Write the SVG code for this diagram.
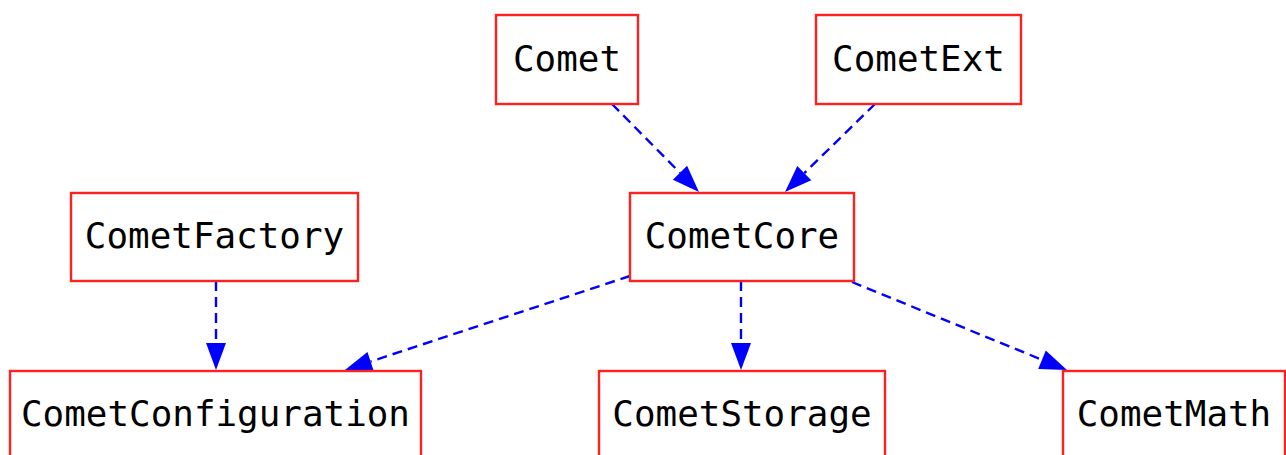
<svg xmlns="http://www.w3.org/2000/svg" width="1286" height="455" viewBox="0 0 1286 455">
<style>
.node rect{fill:#fff;stroke:#ff2020;stroke-width:2.4}
.node text{font-family:"DejaVu Sans Mono",monospace;font-size:35.9px;fill:#000;text-anchor:middle}
.edge{stroke:#0000ff;stroke-width:2.4;fill:none;stroke-dasharray:10,6;marker-end:url(#arr)}
</style>
<defs>
<marker id="arr" markerUnits="userSpaceOnUse" markerWidth="28" markerHeight="22" refX="0" refY="10" orient="auto" overflow="visible">
<path d="M0,0 L27,10 L0,20 z" fill="#0000ff"/>
</marker>
</defs>
<rect width="1286" height="455" fill="#fff"/>
<g id="connectors">
<path class="edge" d="M612,104 L680,172.8"/>
<path class="edge" d="M875,104 L804.3,173.1"/>
<path class="edge" d="M216,281 L216,343"/>
<path class="edge" d="M630,276 L370.6,361.5"/>
<path class="edge" d="M741,281 L741,343"/>
<path class="edge" d="M852,282 L1042,359.8"/>
</g>
<g id="Comet" class="node"><rect x="496" y="15" width="142" height="89"/><text x="567" y="71">Comet</text></g>
<g id="CometExt" class="node"><rect x="816" y="15" width="205" height="89"/><text x="918.5" y="71">CometExt</text></g>
<g id="CometFactory" class="node"><rect x="71" y="193" width="287" height="88"/><text x="214.5" y="248">CometFactory</text></g>
<g id="CometCore" class="node"><rect x="630" y="193" width="224" height="88"/><text x="742" y="248">CometCore</text></g>
<g id="CometConfiguration" class="node"><rect x="10" y="371" width="411" height="88"/><text x="215.5" y="426">CometConfiguration</text></g>
<g id="CometStorage" class="node"><rect x="599" y="371" width="286" height="88"/><text x="742" y="426">CometStorage</text></g>
<g id="CometMath" class="node"><rect x="1063" y="371" width="222" height="88"/><text x="1174" y="426">CometMath</text></g>
</svg>
